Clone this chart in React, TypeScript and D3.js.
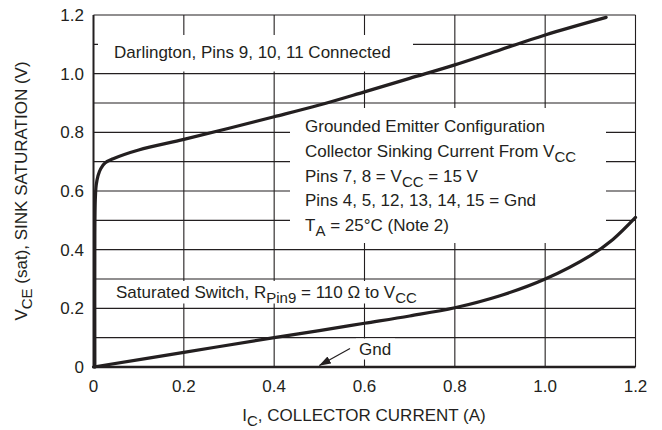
import React from "react";
import * as d3 from "d3";

const xTicks = [0, 0.2, 0.4, 0.6, 0.8, 1.0, 1.2];
const xTickLabels = ["0", "0.2", "0.4", "0.6", "0.8", "1.0", "1.2"];
const yTicks = [0, 0.2, 0.4, 0.6, 0.8, 1.0, 1.2];
const yTickLabels = ["0", "0.2", "0.4", "0.6", "0.8", "1.0", "1.2"];
const xGrid = [0.2, 0.4, 0.6, 0.8, 1.0, 1.2];
const yGrid = [0.1, 0.2, 0.3, 0.4, 0.5, 0.6, 0.7, 0.8, 0.9, 1.0, 1.1, 1.2];

const darlingtonI = [0.003, 0.003, 0.004, 0.006, 0.01, 0.016, 0.026, 0.045, 0.1, 0.2, 0.3, 0.4, 0.5, 0.6, 0.7, 0.8, 0.9, 1.0, 1.135];
const darlingtonV = [0, 0.45, 0.57, 0.62, 0.652, 0.676, 0.696, 0.711, 0.74, 0.776, 0.814, 0.853, 0.893, 0.938, 0.984, 1.03, 1.081, 1.132, 1.192];

const saturatedI = [0, 0.2, 0.4, 0.5, 0.6, 0.7, 0.8, 0.9, 1.0, 1.1, 1.15, 1.2];
const saturatedV = [0, 0.05, 0.1, 0.124, 0.149, 0.174, 0.202, 0.243, 0.3, 0.38, 0.435, 0.51];

const W = 662;
const H = 430;
const left = 93.5;
const right = 635.5;
const top = 15;
const bottom = 367;

const FONT = "'Liberation Sans', Arial, Helvetica, sans-serif";
const INK = "#231f20";

export default function App() {
  const x = d3.scaleLinear().domain([0, 1.2]).range([left, right]);
  const y = d3.scaleLinear().domain([0, 1.2]).range([bottom, top]);

  const line = d3
    .line<[number, number]>()
    .x((d) => x(d[0]))
    .y((d) => y(d[1]))
    .curve(d3.curveCatmullRom.alpha(0.5));

  const darlington = darlingtonI.map((v, i) => [v, darlingtonV[i]] as [number, number]);
  const saturated = saturatedI.map((v, i) => [v, saturatedV[i]] as [number, number]);

  const fs = 17;
  const sub = 15;

  const masks = [
    { x0: 98, y0: 35, x1: 413, y1: 71.5 },
    { x0: 290, y0: 108, x1: 606, y1: 243 },
    { x0: 112, y0: 281, x1: 420, y1: 303.5 },
    { x0: 356, y0: 338.5, x1: 395, y1: 359.5 },
  ];

  const lineX = 305;
  const lineY0 = 132.3;
  const dl = 24.6;

  return (
    <svg
      width={W}
      height={H}
      style={{ position: "absolute", left: 0, top: 0, background: "#fff" }}
      fontFamily={FONT}
      fill={INK}
    >
      <defs>
        <marker id="arrow" viewBox="0 0 12 10" refX="11.5" refY="5" markerWidth="12" markerHeight="10" orient="auto" markerUnits="userSpaceOnUse">
          <path d="M0,1 L12,5 L0,9 z" fill={INK} />
        </marker>
      </defs>
      <rect x={0} y={0} width={W} height={H} fill="#fff" />
      {yGrid.map((v) => (
        <line key={"h" + v} x1={left} x2={right} y1={y(v)} y2={y(v)} stroke={INK} strokeWidth={1.1} />
      ))}
      {xGrid.map((v) => (
        <line key={"v" + v} x1={x(v)} x2={x(v)} y1={top} y2={bottom} stroke={INK} strokeWidth={1.1} />
      ))}
      {masks.map((m, i) => (
        <rect key={"m" + i} x={m.x0} y={m.y0} width={m.x1 - m.x0} height={m.y1 - m.y0} fill="#fff" />
      ))}
      <line x1={left} x2={left} y1={top} y2={bottom + 1} stroke={INK} strokeWidth={2} />
      <line x1={left} x2={right} y1={bottom} y2={bottom} stroke={INK} strokeWidth={2.6} />

      <path d={line(darlington) || ""} fill="none" stroke={INK} strokeWidth={3.2} strokeLinejoin="round" strokeLinecap="round" />
      <path d={line(saturated) || ""} fill="none" stroke={INK} strokeWidth={3.2} strokeLinejoin="round" strokeLinecap="round" />

      {xTicks.map((v, i) => (
        <text key={"xt" + v} x={x(v)} y={392} textAnchor="middle" fontSize={fs}>
          {xTickLabels[i]}
        </text>
      ))}
      {yTicks.map((v, i) => (
        <text key={"yt" + v} x={84} y={y(v) + 6} textAnchor="end" fontSize={fs}>
          {yTickLabels[i]}
        </text>
      ))}

      <text x={364} y={421} textAnchor="middle" fontSize={fs}>
        <tspan>I</tspan>
        <tspan fontSize={sub} dy={5}>C</tspan>
        <tspan dy={-5}>, COLLECTOR CURRENT (A)</tspan>
      </text>
      <text transform={`translate(27, ${(top + bottom) / 2}) rotate(-90)`} textAnchor="middle" fontSize={fs}>
        <tspan>V</tspan>
        <tspan fontSize={sub} dy={5}>CE</tspan>
        <tspan dy={-5}> (sat), SINK SATURATION (V)</tspan>
      </text>

      <text x={114} y={58.3} fontSize={fs}>Darlington, Pins 9, 10, 11 Connected</text>

      <text x={lineX} y={lineY0} fontSize={fs}>Grounded Emitter Configuration</text>
      <text x={lineX} y={lineY0 + dl} fontSize={fs}>
        <tspan>Collector Sinking Current From V</tspan>
        <tspan fontSize={sub} dy={5}>CC</tspan>
      </text>
      <text x={lineX} y={lineY0 + 2 * dl} fontSize={fs}>
        <tspan>Pins 7, 8 = V</tspan>
        <tspan fontSize={sub} dy={5}>CC</tspan>
        <tspan dy={-5}> = 15 V</tspan>
      </text>
      <text x={lineX} y={lineY0 + 3 * dl} fontSize={fs}>Pins 4, 5, 12, 13, 14, 15 = Gnd</text>
      <text x={lineX} y={lineY0 + 4 * dl} fontSize={fs}>
        <tspan>T</tspan>
        <tspan fontSize={sub} dy={5}>A</tspan>
        <tspan dy={-5}> = 25°C (Note 2)</tspan>
      </text>

      <text x={116} y={298.3} fontSize={fs}>
        <tspan>Saturated Switch, R</tspan>
        <tspan fontSize={sub} dy={5}>Pin9</tspan>
        <tspan dy={-5}> = 110 Ω to V</tspan>
        <tspan fontSize={sub} dy={5}>CC</tspan>
      </text>

      <text x={359} y={355} fontSize={fs}>Gnd</text>
      <line x1={350} y1={348.5} x2={x(0.5)} y2={bottom - 1.5} stroke={INK} strokeWidth={1.2} markerEnd="url(#arrow)" />
    </svg>
  );
}
